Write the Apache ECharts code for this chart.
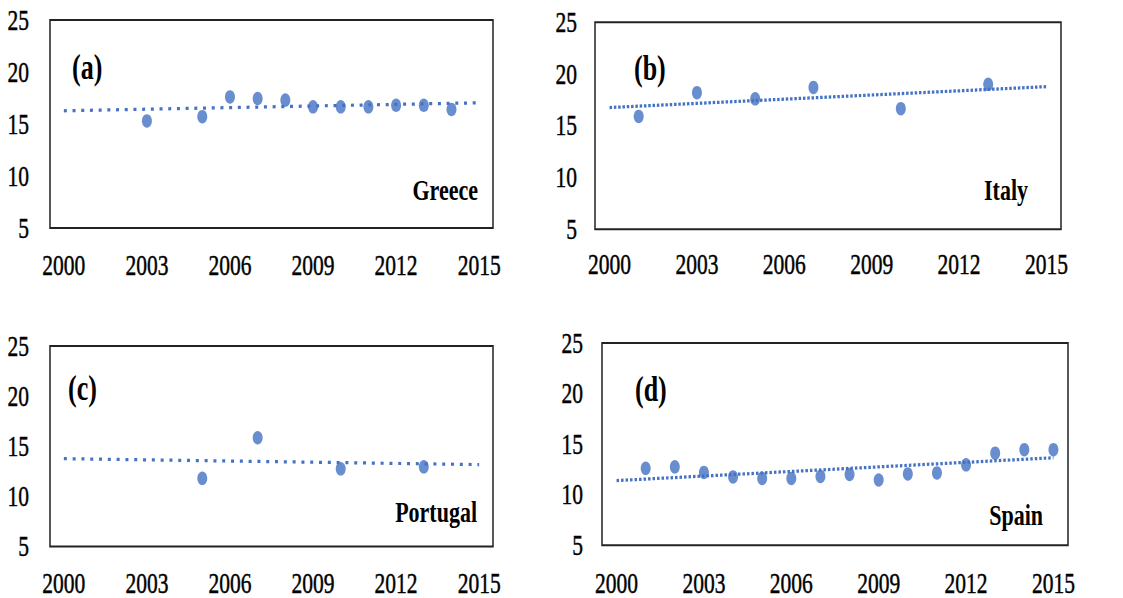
<!DOCTYPE html>
<html>
<head>
<meta charset="utf-8">
<script src="https://cdn.jsdelivr.net/npm/echarts@6.0.0/dist/echarts.min.js"></script>
<style>
  html { margin: 0; padding: 0; overflow: hidden; background: #ffffff; }
  body { margin: 0; padding: 0; width: 1123px; height: 598px; background: #ffffff; }
  #chart { width: 1123px; height: 443px; transform: scaleY(1.35); transform-origin: 0 0; }
</style>
</head>
<body>
<div id="chart"></div>
<script>
// ---- data ----
var xTickYears = [2000, 2003, 2006, 2009, 2012, 2015];
var yTickValues = [5, 10, 15, 20, 25];
var trendYears = [2000, 2015];

var greeceYears  = [2003, 2005, 2006, 2007, 2008, 2009, 2010, 2011, 2012, 2013, 2014];
var greeceValues = [15.3, 15.7, 17.6, 17.45, 17.3, 16.65, 16.65, 16.65, 16.8, 16.8, 16.4];
var greeceTrend  = [16.27, 17.04];

var italyYears  = [2001, 2003, 2005, 2007, 2010, 2013];
var italyValues = [15.9, 18.2, 17.6, 18.7, 16.65, 19.0];
var italyTrend  = [16.76, 18.78];

var portugalYears  = [2005, 2007, 2010, 2013];
var portugalValues = [11.8, 15.85, 12.75, 12.95];
var portugalTrend  = [13.76, 13.17];

var spainYears  = [2001, 2002, 2003, 2004, 2005, 2006, 2007, 2008, 2009, 2010, 2011, 2012, 2013, 2014, 2015];
var spainValues = [12.6, 12.75, 12.2, 11.75, 11.6, 11.6, 11.8, 12.0, 11.45, 12.05, 12.15, 12.95, 14.1, 14.45, 14.45];
var spainTrend  = [11.39, 13.65];

var panelLetters = ['(a)', '(b)', '(c)', '(d)'];
var countryNames = ['Greece', 'Italy', 'Portugal', 'Spain'];

// ---- layout / style ----
var BLUE = '#4472C4';
var FONT = '"Liberation Serif", "Times New Roman", serif';

var panels = [
  { years: greeceYears, values: greeceValues, trend: greeceTrend,
    grid: { left: 50, top: 14.8, width: 443, height: 154.1 }, yMargin: 21, xMargin: 16.5, dash: [3, 5.7],
    letterPos: [72, 49.6], namePos: [478, 141.3] },
  { years: italyYears, values: italyValues, trend: italyTrend,
    grid: { left: 595, top: 16.5, width: 466, height: 153.3 }, yMargin: 18, xMargin: 15, dash: [2.5, 1.8],
    letterPos: [634, 50.4], namePos: [1028, 140.7] },
  { years: portugalYears, values: portugalValues, trend: portugalTrend,
    grid: { left: 50, top: 256.3, width: 443, height: 149.6 }, yMargin: 21, xMargin: 16, dash: [3, 5.8],
    letterPos: [68, 287.4], namePos: [477, 379.3] },
  { years: spainYears, values: spainValues, trend: spainTrend,
    grid: { left: 602, top: 254.1, width: 466, height: 152.6 }, yMargin: 19, xMargin: 17, dash: [2.5, 2],
    letterPos: [635, 288.1], namePos: [1043, 381.5] }
];

function zip(a, b) { return a.map(function (v, i) { return [v, b[i]]; }); }

var grids = [], xAxes = [], yAxes = [], series = [], graphics = [];

var tickLabelStyle = { color: '#000', fontFamily: FONT, fontSize: 21.5, textBorderColor: '#000', textBorderWidth: 0.35 };

panels.forEach(function (p, i) {
  grids.push({
    left: p.grid.left, top: p.grid.top, width: p.grid.width, height: p.grid.height,
    show: true, borderColor: '#222222', borderWidth: 1.5, backgroundColor: 'transparent',
    containLabel: false
  });
  xAxes.push({
    type: 'value', gridIndex: i, min: 1999.5, max: 2015.5,
    axisLine: { show: false }, axisTick: { show: false }, splitLine: { show: false },
    axisLabel: Object.assign({ customValues: xTickYears, margin: p.xMargin,
                 formatter: function (v) { return String(v); } }, tickLabelStyle)
  });
  yAxes.push({
    type: 'value', gridIndex: i, min: yTickValues[0], max: yTickValues[yTickValues.length - 1], interval: 5,
    axisLine: { show: false }, axisTick: { show: false }, splitLine: { show: false },
    axisLabel: Object.assign({ margin: p.yMargin }, tickLabelStyle)
  });
  series.push({
    type: 'line', xAxisIndex: i, yAxisIndex: i, data: zip(trendYears, p.trend),
    showSymbol: false, silent: true, z: 2,
    lineStyle: { color: BLUE, width: 2.4, type: p.dash, cap: 'butt' }
  });
  series.push({
    type: 'scatter', xAxisIndex: i, yAxisIndex: i, data: zip(p.years, p.values),
    symbol: 'circle', symbolSize: 10, z: 3,
    itemStyle: { color: BLUE }
  });
  graphics.push({
    type: 'text', x: p.letterPos[0], y: p.letterPos[1],
    style: { text: panelLetters[i], fill: '#000', font: 'bold 26px ' + FONT,
             textAlign: 'left', align: 'left', textVerticalAlign: 'middle', verticalAlign: 'middle' }
  });
  graphics.push({
    type: 'text', x: p.namePos[0], y: p.namePos[1],
    style: { text: countryNames[i], fill: '#000', font: 'bold 22px ' + FONT,
             textAlign: 'right', align: 'right', textVerticalAlign: 'middle', verticalAlign: 'middle' }
  });
});

var chart = echarts.init(document.getElementById('chart'), null, { renderer: 'svg' });
chart.setOption({
  animation: false,
  backgroundColor: '#ffffff',
  grid: grids,
  xAxis: xAxes,
  yAxis: yAxes,
  series: series,
  graphic: graphics
});
</script>
</body>
</html>
